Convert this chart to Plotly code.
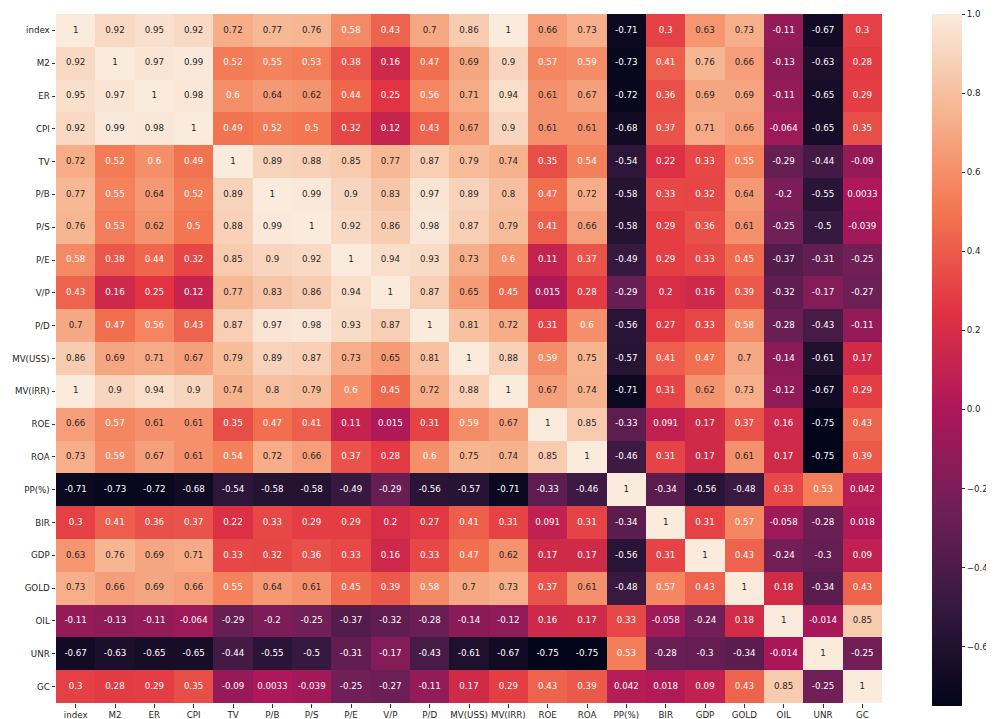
import plotly.graph_objects as go

labels = ["index", "M2", "ER", "CPI", "TV", "P/B", "P/S", "P/E", "V/P", "P/D",
          "MV(USS)", "MV(IRR)", "ROE", "ROA", "PP(%)", "BIR", "GDP", "GOLD",
          "OIL", "UNR", "GC"]

row_index = [1, 0.92, 0.95, 0.92, 0.72, 0.77, 0.76, 0.58, 0.43, 0.7, 0.86, 1, 0.66, 0.73, -0.71, 0.3, 0.63, 0.73, -0.11, -0.67, 0.3]
row_m2 = [0.92, 1, 0.97, 0.99, 0.52, 0.55, 0.53, 0.38, 0.16, 0.47, 0.69, 0.9, 0.57, 0.59, -0.73, 0.41, 0.76, 0.66, -0.13, -0.63, 0.28]
row_er = [0.95, 0.97, 1, 0.98, 0.6, 0.64, 0.62, 0.44, 0.25, 0.56, 0.71, 0.94, 0.61, 0.67, -0.72, 0.36, 0.69, 0.69, -0.11, -0.65, 0.29]
row_cpi = [0.92, 0.99, 0.98, 1, 0.49, 0.52, 0.5, 0.32, 0.12, 0.43, 0.67, 0.9, 0.61, 0.61, -0.68, 0.37, 0.71, 0.66, -0.064, -0.65, 0.35]
row_tv = [0.72, 0.52, 0.6, 0.49, 1, 0.89, 0.88, 0.85, 0.77, 0.87, 0.79, 0.74, 0.35, 0.54, -0.54, 0.22, 0.33, 0.55, -0.29, -0.44, -0.09]
row_pb = [0.77, 0.55, 0.64, 0.52, 0.89, 1, 0.99, 0.9, 0.83, 0.97, 0.89, 0.8, 0.47, 0.72, -0.58, 0.33, 0.32, 0.64, -0.2, -0.55, 0.0033]
row_ps = [0.76, 0.53, 0.62, 0.5, 0.88, 0.99, 1, 0.92, 0.86, 0.98, 0.87, 0.79, 0.41, 0.66, -0.58, 0.29, 0.36, 0.61, -0.25, -0.5, -0.039]
row_pe = [0.58, 0.38, 0.44, 0.32, 0.85, 0.9, 0.92, 1, 0.94, 0.93, 0.73, 0.6, 0.11, 0.37, -0.49, 0.29, 0.33, 0.45, -0.37, -0.31, -0.25]
row_vp = [0.43, 0.16, 0.25, 0.12, 0.77, 0.83, 0.86, 0.94, 1, 0.87, 0.65, 0.45, 0.015, 0.28, -0.29, 0.2, 0.16, 0.39, -0.32, -0.17, -0.27]
row_pd = [0.7, 0.47, 0.56, 0.43, 0.87, 0.97, 0.98, 0.93, 0.87, 1, 0.81, 0.72, 0.31, 0.6, -0.56, 0.27, 0.33, 0.58, -0.28, -0.43, -0.11]
row_mvuss = [0.86, 0.69, 0.71, 0.67, 0.79, 0.89, 0.87, 0.73, 0.65, 0.81, 1, 0.88, 0.59, 0.75, -0.57, 0.41, 0.47, 0.7, -0.14, -0.61, 0.17]
row_mvirr = [1, 0.9, 0.94, 0.9, 0.74, 0.8, 0.79, 0.6, 0.45, 0.72, 0.88, 1, 0.67, 0.74, -0.71, 0.31, 0.62, 0.73, -0.12, -0.67, 0.29]
row_roe = [0.66, 0.57, 0.61, 0.61, 0.35, 0.47, 0.41, 0.11, 0.015, 0.31, 0.59, 0.67, 1, 0.85, -0.33, 0.091, 0.17, 0.37, 0.16, -0.75, 0.43]
row_roa = [0.73, 0.59, 0.67, 0.61, 0.54, 0.72, 0.66, 0.37, 0.28, 0.6, 0.75, 0.74, 0.85, 1, -0.46, 0.31, 0.17, 0.61, 0.17, -0.75, 0.39]
row_pp = [-0.71, -0.73, -0.72, -0.68, -0.54, -0.58, -0.58, -0.49, -0.29, -0.56, -0.57, -0.71, -0.33, -0.46, 1, -0.34, -0.56, -0.48, 0.33, 0.53, 0.042]
row_bir = [0.3, 0.41, 0.36, 0.37, 0.22, 0.33, 0.29, 0.29, 0.2, 0.27, 0.41, 0.31, 0.091, 0.31, -0.34, 1, 0.31, 0.57, -0.058, -0.28, 0.018]
row_gdp = [0.63, 0.76, 0.69, 0.71, 0.33, 0.32, 0.36, 0.33, 0.16, 0.33, 0.47, 0.62, 0.17, 0.17, -0.56, 0.31, 1, 0.43, -0.24, -0.3, 0.09]
row_gold = [0.73, 0.66, 0.69, 0.66, 0.55, 0.64, 0.61, 0.45, 0.39, 0.58, 0.7, 0.73, 0.37, 0.61, -0.48, 0.57, 0.43, 1, 0.18, -0.34, 0.43]
row_oil = [-0.11, -0.13, -0.11, -0.064, -0.29, -0.2, -0.25, -0.37, -0.32, -0.28, -0.14, -0.12, 0.16, 0.17, 0.33, -0.058, -0.24, 0.18, 1, -0.014, 0.85]
row_unr = [-0.67, -0.63, -0.65, -0.65, -0.44, -0.55, -0.5, -0.31, -0.17, -0.43, -0.61, -0.67, -0.75, -0.75, 0.53, -0.28, -0.3, -0.34, -0.014, 1, -0.25]
row_gc = [0.3, 0.28, 0.29, 0.35, -0.09, 0.0033, -0.039, -0.25, -0.27, -0.11, 0.17, 0.29, 0.43, 0.39, 0.042, 0.018, 0.09, 0.43, 0.85, -0.25, 1]

colorbar_ticks = [-0.6, -0.4, -0.2, 0.0, 0.2, 0.4, 0.6, 0.8, 1.0]

z = [row_index, row_m2, row_er, row_cpi, row_tv, row_pb, row_ps, row_pe, row_vp,
     row_pd, row_mvuss, row_mvirr, row_roe, row_roa, row_pp, row_bir, row_gdp,
     row_gold, row_oil, row_unr, row_gc]

rocket = [
    [0.0, "#03051a"],
    [1 / 7, "#35193e"],
    [2 / 7, "#701f57"],
    [3 / 7, "#ad1759"],
    [4 / 7, "#e13342"],
    [5 / 7, "#f37651"],
    [6 / 7, "#f6b48f"],
    [1.0, "#faebdd"],
]

zmin = min(min(r) for r in z)
zmax = max(max(r) for r in z)

FONT = "DejaVu Sans"
FS = 8.7
# page body has an 8px default margin; figure sized to fill the remaining viewport
W, H = 986, 711
L, T = 48, 6
R = W - (882 - 8)
B = H - (703 - 8)
PW = W - L - R
n = len(labels)

fig = go.Figure()
fig.add_trace(go.Heatmap(
    z=z, x=labels, y=labels,
    colorscale=rocket, zmin=zmin, zmax=zmax,
    hoverinfo="skip",
    colorbar=dict(
        x=(924 - L) / PW, xanchor="left", xpad=0,
        y=1.0, yanchor="top", ypad=0,
        lenmode="pixels", len=692,
        thickness=30, thicknessmode="pixels",
        outlinewidth=0,
        tickvals=colorbar_ticks, tickformat=".1f",
        ticks="outside", ticklen=3.5, tickcolor="#333",
        tickfont=dict(family=FONT, size=FS, color="#262626"),
    ),
))

tx, ty, tt, tc = [], [], [], []
for i, rl in enumerate(labels):
    for j, cl in enumerate(labels):
        v = z[i][j]
        tx.append(cl)
        ty.append(rl)
        tt.append(format(v, ".2g"))
        tc.append("#262626" if v > 0.605 else "#ffffff")

fig.add_trace(go.Scatter(
    x=tx, y=ty, text=tt, mode="text",
    textfont=dict(family=FONT, size=FS, color=tc),
    hoverinfo="skip", showlegend=False,
))

axis_common = dict(
    showgrid=False, zeroline=False, showline=False,
    ticks="outside", ticklen=3.5, tickcolor="#333",
    tickfont=dict(family=FONT, size=FS, color="#262626"),
    automargin=False,
)

fig.update_layout(
    width=W, height=H,
    margin=dict(l=L, r=R, t=T, b=B, autoexpand=False),
    paper_bgcolor="white", plot_bgcolor="white",
    xaxis=dict(**axis_common, type="category", tickangle=0,
               range=[-0.5, n - 0.5]),
    yaxis=dict(**axis_common, type="category",
               range=[n - 0.5, -0.5]),
    showlegend=False,
)

fig.write_html("out.html")
